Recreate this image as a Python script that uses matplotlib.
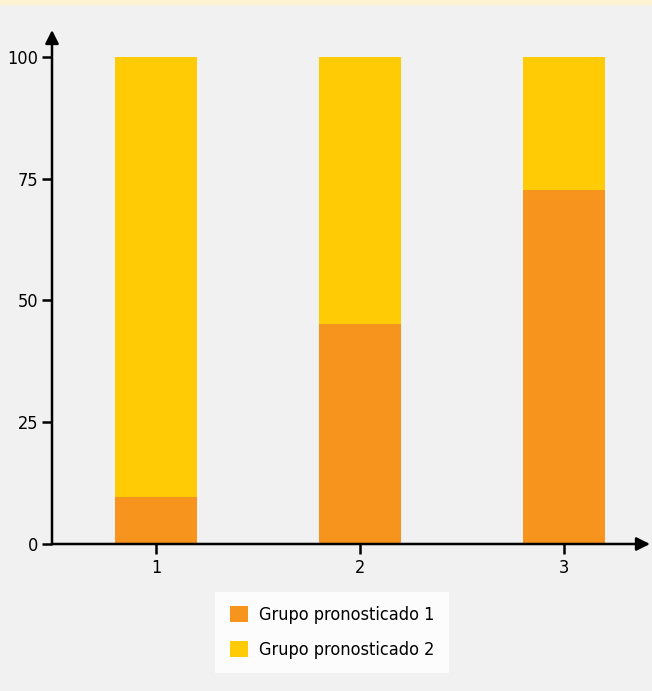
import matplotlib
matplotlib.use("Agg")
import matplotlib.pyplot as plt
from matplotlib.patches import Rectangle

# datos
categorias = [1, 2, 3]
grupo1 = [9.6, 45.2, 72.7]
grupo2 = [90.4, 54.8, 27.3]
etiquetas = ["Grupo pronosticado 1", "Grupo pronosticado 2"]
yticks = [0, 25, 50, 75, 100]

naranja = "#f7941d"
amarillo = "#ffcb05"
fondo = "#f1f1f1"

plt.rcParams['font.family'] = ['DejaVu Sans']
plt.rcParams['font.stretch'] = 'condensed'

fig = plt.figure(figsize=(6.52, 6.91), dpi=100, facecolor=fondo)
# franja superior
fig.patches.append(Rectangle((0, 1 - 4/691), 1, 4/691, transform=fig.transFigure,
                             color="#fdf3d3", zorder=0))

ax = fig.add_axes([52/652, 1 - 544/691, (650 - 52)/652, (544 - 30)/691])
ax.set_facecolor(fondo)

b1 = ax.bar(categorias, grupo1, width=0.4, color=naranja, label=etiquetas[0])
b2 = ax.bar(categorias, grupo2, width=0.4, bottom=grupo1, color=amarillo, label=etiquetas[1])

ax.set_xlim(0.49, 3.42)
ax.set_ylim(0, 105.5)
ax.set_xticks(categorias)
ax.set_yticks(yticks)
ax.tick_params(axis="both", labelsize=13, width=1.8, length=7, color="black")
ax.tick_params(axis="x", pad=4)
ax.tick_params(axis="y", pad=3)

for s in ax.spines.values():
    s.set_visible(False)

# ejes con flecha
ax.annotate("", xy=(0, 1), xytext=(0, 0), xycoords="axes fraction",
            arrowprops=dict(arrowstyle="-|>", lw=1.8, color="black",
                            mutation_scale=20, shrinkA=0, shrinkB=0), annotation_clip=False)
ax.annotate("", xy=(1, 0), xytext=(0, 0), xycoords="axes fraction",
            arrowprops=dict(arrowstyle="-|>", lw=1.8, color="black",
                            mutation_scale=20, shrinkA=0, shrinkB=0), annotation_clip=False)

leg = fig.legend(handles=[b1, b2], labels=etiquetas, loc="center",
                 bbox_to_anchor=(332/652, 1 - 632.5/691), fontsize=13,
                 frameon=True, fancybox=False, facecolor="white", edgecolor="white",
                 handlelength=1.0, handleheight=1.0, handletextpad=0.6,
                 labelspacing=0.9, borderpad=0.8, borderaxespad=0)
leg.get_frame().set_linewidth(0)

fig.savefig("out.png", dpi=100, facecolor=fondo)
